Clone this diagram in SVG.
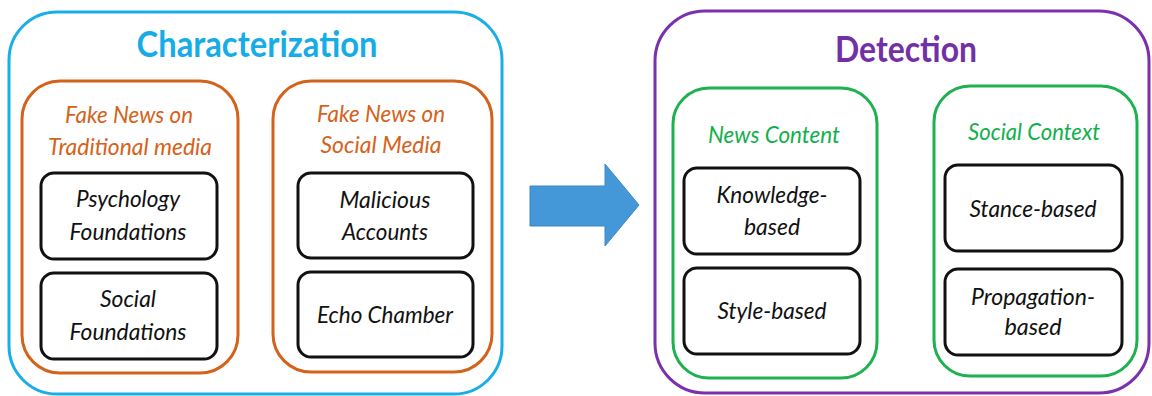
<svg xmlns="http://www.w3.org/2000/svg" width="1152" height="396" viewBox="0 0 1152 396">
<style>
  .outer{fill:#ffffff;stroke-width:3}
  .group{fill:#ffffff;stroke-width:3}
  .leaf{fill:#ffffff;stroke:#111111;stroke-width:3}
  .title{font-family:Lato,"Liberation Sans",sans-serif;font-weight:bold;text-anchor:middle}
  .sub{font-family:Lato,"Liberation Sans",sans-serif;font-style:italic;font-size:23px;text-anchor:middle}
  .lt{font-family:Lato,"Liberation Sans",sans-serif;font-style:italic;font-size:23px;text-anchor:middle;fill:#111111}
</style>
<rect x="0" y="0" width="1152" height="396" fill="#ffffff"/>

<g id="characterization">
  <rect class="outer" x="9" y="12" width="493" height="382" rx="48" stroke="#1AAEE8"/>
  <text class="title" x="257" y="57" font-size="36" fill="#16ACE8" textLength="241" lengthAdjust="spacingAndGlyphs">Characterization</text>
</g>

<g id="traditional-media">
  <rect class="group" x="22" y="81" width="216" height="292" rx="38" stroke="#D5621A"/>
  <text class="sub" fill="#D5621A" x="129" y="123" textLength="128" lengthAdjust="spacingAndGlyphs">Fake News on</text>
  <text class="sub" fill="#D5621A" x="130" y="155" textLength="164" lengthAdjust="spacingAndGlyphs">Traditional media</text>
</g>
<g id="psychology-foundations">
  <rect class="leaf" x="41" y="173" width="176" height="86" rx="13"/>
  <text class="lt" x="128" y="207" textLength="104" lengthAdjust="spacingAndGlyphs">Psychology</text>
  <text class="lt" x="128" y="240" textLength="117" lengthAdjust="spacingAndGlyphs">Foundations</text>
</g>
<g id="social-foundations">
  <rect class="leaf" x="41" y="273" width="176" height="86" rx="13"/>
  <text class="lt" x="128" y="307" textLength="56" lengthAdjust="spacingAndGlyphs">Social</text>
  <text class="lt" x="128" y="340" textLength="117" lengthAdjust="spacingAndGlyphs">Foundations</text>
</g>

<g id="social-media">
  <rect class="group" x="273" y="81" width="219" height="291" rx="38" stroke="#D5621A"/>
  <text class="sub" fill="#D5621A" x="381" y="122" textLength="128" lengthAdjust="spacingAndGlyphs">Fake News on</text>
  <text class="sub" fill="#D5621A" x="381" y="153" textLength="121" lengthAdjust="spacingAndGlyphs">Social Media</text>
</g>
<g id="malicious-accounts">
  <rect class="leaf" x="298" y="173" width="175" height="85" rx="13"/>
  <text class="lt" x="385" y="208" textLength="91" lengthAdjust="spacingAndGlyphs">Malicious</text>
  <text class="lt" x="385" y="240" textLength="86" lengthAdjust="spacingAndGlyphs">Accounts</text>
</g>
<g id="echo-chamber">
  <rect class="leaf" x="298" y="272" width="175" height="85" rx="13"/>
  <text class="lt" x="385" y="323" textLength="136" lengthAdjust="spacingAndGlyphs">Echo Chamber</text>
</g>

<g id="connectors">
  <polygon points="530,186 605,186 605,164 639,205 605,246 605,226 530,226" fill="#4598D8" stroke="#3C86C4" stroke-width="1"/>
</g>

<g id="detection">
  <rect class="outer" x="655" y="11" width="494" height="382" rx="50" stroke="#7B30AE"/>
  <text class="title" x="906" y="62" font-size="36" fill="#7330A6" textLength="142" lengthAdjust="spacingAndGlyphs">Detection</text>
</g>

<g id="news-content">
  <rect class="group" x="673" y="88" width="204" height="290" rx="36" stroke="#1DB150"/>
  <text class="sub" fill="#12B04C" x="774" y="143" textLength="132" lengthAdjust="spacingAndGlyphs">News Content</text>
</g>
<g id="knowledge-based">
  <rect class="leaf" x="684" y="168" width="176" height="86" rx="13"/>
  <text class="lt" x="772" y="203" textLength="111" lengthAdjust="spacingAndGlyphs">Knowledge-</text>
  <text class="lt" x="772" y="235" textLength="56" lengthAdjust="spacingAndGlyphs">based</text>
</g>
<g id="style-based">
  <rect class="leaf" x="684" y="268" width="176" height="86" rx="13"/>
  <text class="lt" x="772" y="319" textLength="109" lengthAdjust="spacingAndGlyphs">Style-based</text>
</g>

<g id="social-context">
  <rect class="group" x="934" y="86" width="203" height="290" rx="36" stroke="#1DB150"/>
  <text class="sub" fill="#12B04C" x="1034" y="140" textLength="132" lengthAdjust="spacingAndGlyphs">Social Context</text>
</g>
<g id="stance-based">
  <rect class="leaf" x="945" y="165" width="177" height="86" rx="13"/>
  <text class="lt" x="1033" y="217" textLength="127" lengthAdjust="spacingAndGlyphs">Stance-based</text>
</g>
<g id="propagation-based">
  <rect class="leaf" x="945" y="269" width="177" height="86" rx="13"/>
  <text class="lt" x="1033" y="305" textLength="124" lengthAdjust="spacingAndGlyphs">Propagation-</text>
  <text class="lt" x="1033" y="335" textLength="57" lengthAdjust="spacingAndGlyphs">based</text>
</g>
</svg>
